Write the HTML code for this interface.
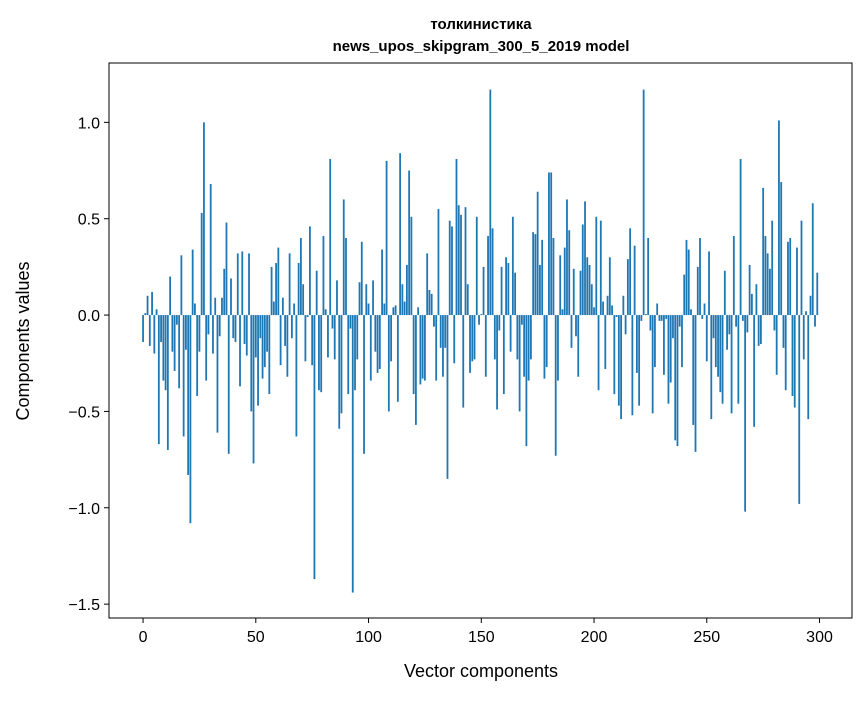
<!DOCTYPE html>
<html><head><meta charset="utf-8"><style>
body{margin:0;background:#fff}
svg text{font-family:"Liberation Sans","DejaVu Sans",sans-serif;fill:#000}
</style></head><body>
<svg id="chart" width="867" height="696" xmlns="http://www.w3.org/2000/svg">
<rect width="867" height="696" fill="#fff"/>
<text x="481" y="29" text-anchor="middle" font-size="15" font-weight="bold">толкинистика</text>
<text x="481" y="51" text-anchor="middle" font-size="15" font-weight="bold">news_upos_skipgram_300_5_2019 model</text>
<g id="bars"></g>
<g id="axes"></g>
<text x="481" y="677" text-anchor="middle" font-size="18">Vector components</text>
<text transform="translate(29,341) rotate(-90)" text-anchor="middle" font-size="18">Components values</text>
</svg>
<script>
const values = [
-0.14,0.01,0.10,-0.16,0.12,-0.20,0.03,-0.67,-0.14,-0.34,
-0.39,-0.70,0.20,-0.19,-0.29,-0.05,-0.38,0.31,-0.63,-0.18,
-0.83,-1.08,0.34,0.06,-0.42,-0.19,0.53,1.00,-0.34,-0.10,
0.68,-0.20,0.09,-0.61,-0.11,0.09,0.24,0.48,-0.72,0.19,
-0.12,-0.14,0.32,-0.37,0.33,-0.15,-0.21,0.32,-0.50,-0.77,
-0.22,-0.47,-0.12,-0.33,-0.27,-0.19,-0.41,0.25,0.07,0.27,
0.35,-0.26,0.09,-0.16,-0.32,0.32,-0.12,0.06,-0.63,0.27,
0.40,0.16,-0.24,-0.01,0.46,-0.26,-1.37,0.23,-0.39,-0.40,
0.41,0.03,-0.22,0.81,-0.07,-0.23,0.18,-0.59,-0.51,0.60,
0.40,-0.41,-0.07,-1.44,-0.39,-0.23,0.17,0.38,-0.72,0.16,
0.06,-0.34,0.18,-0.19,-0.30,-0.28,0.34,0.06,0.80,-0.50,
-0.24,0.04,0.05,-0.45,0.84,0.16,0.07,0.26,0.75,0.51,
-0.41,-0.57,0.04,-0.36,-0.33,-0.34,0.32,0.13,0.11,-0.06,
-0.34,0.55,-0.17,-0.32,-0.17,-0.85,0.49,0.46,-0.25,0.81,
0.57,0.52,-0.48,0.56,0.16,-0.30,-0.24,-0.23,0.51,-0.05,
0.005,0.25,-0.32,0.41,1.17,0.45,-0.23,-0.49,-0.08,0.25,
-0.41,0.30,0.27,-0.19,0.51,0.22,-0.23,-0.50,-0.05,-0.32,
-0.68,-0.34,-0.23,0.43,0.42,0.64,0.26,0.39,-0.33,-0.27,
0.74,0.74,0.40,-0.73,-0.34,0.31,0.03,0.35,0.60,0.44,
-0.17,0.24,-0.11,-0.32,0.23,0.47,0.59,0.30,0.26,0.16,
0.04,0.51,-0.39,0.49,0.07,-0.28,0.10,0.30,0.05,-0.41,
-0.01,-0.47,-0.54,0.10,-0.10,0.29,0.45,-0.52,0.36,-0.30,
-0.47,-0.03,1.17,0.005,0.40,-0.08,-0.51,-0.27,0.06,-0.03,
-0.03,-0.31,-0.02,-0.46,-0.35,-0.12,-0.65,-0.68,-0.06,-0.27,
0.21,0.39,0.34,0.03,-0.57,-0.71,0.25,0.40,-0.02,0.06,
-0.24,0.33,-0.54,-0.12,-0.27,-0.32,-0.40,-0.46,0.23,-0.18,
-0.10,-0.51,0.41,-0.06,-0.46,0.81,-0.03,-1.02,-0.09,0.26,
0.11,-0.58,0.16,-0.16,-0.15,0.66,0.41,0.32,0.24,0.49,
-0.08,-0.31,1.01,0.69,-0.17,-0.39,0.38,0.40,-0.42,-0.48,
0.35,-0.98,0.49,-0.23,0.02,-0.54,0.10,0.58,-0.06,0.22
];
const xTicks = [0,50,100,150,200,250,300];
const yTicks = [-1.5,-1.0,-0.5,0.0,0.5,1.0];
const yTickLabels = ["\u22121.5","\u22121.0","\u22120.5","0.0","0.5","1.0"];

const L=109,R=852,T=63,B=618;
const xMin=-15.1,xMax=314.4,yMin=-1.572,yMax=1.308;
const xs=v=>L+(v-xMin)/(xMax-xMin)*(R-L);
const ys=v=>B-(v-yMin)/(yMax-yMin)*(B-T);
const NS="http://www.w3.org/2000/svg";
const bars=document.getElementById('bars');
const axes=document.getElementById('axes');
function mk(tag,attrs,parent){const e=document.createElementNS(NS,tag);for(const k in attrs)e.setAttribute(k,attrs[k]);parent.appendChild(e);return e;}
values.forEach((v,i)=>{
  const x0=xs(i-0.4),x1=xs(i+0.4);
  const y0=ys(Math.max(v,0)),y1=ys(Math.min(v,0));
  const r=mk('rect',{x:x0,y:y0,width:x1-x0,height:Math.max(y1-y0,0.3),fill:'#1f77b4'},bars);
  
  
});
const frame=mk('rect',{x:L,y:T,width:R-L,height:B-T,fill:'none',stroke:'#000','stroke-width':1},axes);


xTicks.forEach(t=>{
  const x=xs(t);
  const tk=mk('line',{x1:x,x2:x,y1:B,y2:B+5,stroke:'#000'},axes);
  
  
  const tx=mk('text',{x:x,y:B+24,'text-anchor':'middle','font-size':16},axes);
  tx.textContent=t;
  
  
});
yTicks.forEach((t,i)=>{
  const y=ys(t);
  const tk=mk('line',{x1:L-5,x2:L,y1:y,y2:y,stroke:'#000'},axes);
  
  
  const tx=mk('text',{x:L-9,y:y+6,'text-anchor':'end','font-size':16},axes);
  tx.textContent=yTickLabels[i];
  
  
});
</script>
</body></html>
